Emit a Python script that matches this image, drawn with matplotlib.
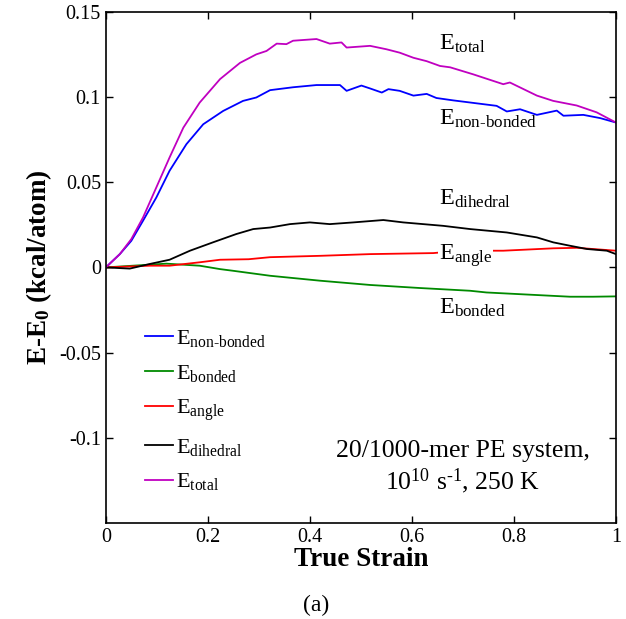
import matplotlib
matplotlib.use("Agg")
import matplotlib.pyplot as plt

# values (true strain, E - E0 in kcal/atom)
total_x = [0, 0.0275, 0.050, 0.073, 0.099, 0.125, 0.152, 0.184, 0.224, 0.263, 0.295, 0.315,
           0.335, 0.354, 0.367, 0.413, 0.439, 0.462, 0.472, 0.518, 0.550, 0.576, 0.603, 0.629,
           0.655, 0.675, 0.72, 0.779, 0.792, 0.845, 0.877, 0.923, 0.962, 1.0]
total_y = [0, 0.0078, 0.0166, 0.0293, 0.0469, 0.0645, 0.082, 0.0967, 0.1105, 0.120, 0.125, 0.127,
           0.1313, 0.131, 0.133, 0.134, 0.1313, 0.132, 0.129, 0.130, 0.128, 0.126, 0.123, 0.121,
           0.1182, 0.1174, 0.1133, 0.1075, 0.1085, 0.1008, 0.0977, 0.095, 0.091, 0.085]

nb_x = [0, 0.0275, 0.050, 0.073, 0.099, 0.125, 0.158, 0.191, 0.230, 0.269, 0.295, 0.322,
        0.367, 0.413, 0.459, 0.472, 0.501, 0.518, 0.541, 0.554, 0.576, 0.603, 0.629, 0.648,
        0.681, 0.766, 0.786, 0.812, 0.845, 0.884, 0.897, 0.936, 0.969, 1.0]
nb_y = [0, 0.0078, 0.0156, 0.0274, 0.041, 0.0567, 0.0723, 0.084, 0.0918, 0.0977, 0.0997, 0.104,
        0.1057, 0.107, 0.107, 0.1036, 0.1067, 0.105, 0.1026, 0.1046, 0.1036, 0.1008, 0.1018, 0.0994,
        0.098, 0.0948, 0.0915, 0.0928, 0.0895, 0.092, 0.089, 0.0895, 0.0876, 0.085]

dih_x = [0, 0.047, 0.086, 0.125, 0.165, 0.210, 0.256, 0.289, 0.322, 0.361, 0.40, 0.439, 0.485,
         0.544, 0.583, 0.622, 0.661, 0.714, 0.786, 0.845, 0.877, 0.910, 0.943, 0.982, 1.0]
dih_y = [0, -0.0007, 0.002, 0.0045, 0.0098, 0.0147, 0.0196, 0.0225, 0.0234, 0.0254, 0.0264, 0.0254, 0.0264,
         0.0278, 0.0264, 0.0254, 0.0244, 0.0225, 0.0205, 0.0176, 0.0147, 0.0127, 0.0108, 0.0098, 0.0078]

ang_x = [0, 0.086, 0.125, 0.184, 0.224, 0.28, 0.322, 0.42, 0.518, 0.642, 0.694, 0.779, 0.877, 0.923, 1.0]
ang_y = [0, 0.001, 0.001, 0.003, 0.0045, 0.0048, 0.006, 0.0068, 0.0078, 0.0084, 0.0098, 0.0098, 0.0112, 0.0115, 0.0098]

bond_x = [0, 0.053, 0.119, 0.184, 0.224, 0.25, 0.322, 0.42, 0.518, 0.616, 0.714, 0.746, 0.831, 0.910, 0.955, 1.0]
bond_y = [0, 0.001, 0.0022, 0.001, -0.001, -0.002, -0.0049, -0.0078, -0.0103, -0.0121, -0.0137, -0.0147,
          -0.016, -0.0172, -0.0172, -0.017]

series = [
    ("non-bonded", nb_x, nb_y, "#0000ff"),
    ("bonded", bond_x, bond_y, "#008a00"),
    ("angle", ang_x, ang_y, "#ff0000"),
    ("dihedral", dih_x, dih_y, "#000000"),
    ("total", total_x, total_y, "#c000c0"),
]

# curve labels inside the plot (strain, energy)
curve_labels = [
    ("total", 0.653, 0.131),
    ("non-bonded", 0.653, 0.087),
    ("dihedral", 0.653, 0.040),
    ("angle", 0.653, 0.007),
    ("bonded", 0.653, -0.024),
]

x_ticks = [0, 0.2, 0.4, 0.6, 0.8, 1]
x_tick_labels = ["0", "0.2", "0.4", "0.6", "0.8", "1"]
y_ticks = [-0.1, -0.05, 0, 0.05, 0.1, 0.15]
y_tick_labels = ["-0.1", "-0.05", "0", "0.05", "0.1", "0.15"]

plt.rcParams.update({
    "font.family": "Liberation Serif",
    "mathtext.fontset": "custom",
    "mathtext.rm": "Liberation Serif",
    "mathtext.it": "Liberation Serif:italic",
    "mathtext.bf": "Liberation Serif:bold",
    "xtick.direction": "in",
    "ytick.direction": "in",
    "xtick.top": True,
    "ytick.right": True,
})


def sub_label(name):
    return r"E$_{\text{%s}}$" % name


fig = plt.figure(figsize=(6.26, 6.19), dpi=100)
ax = fig.add_axes([0.169, 0.155, 0.815, 0.826])

for name, xs, ys, color in series:
    ax.plot(xs, ys, color=color, lw=1.3, label=sub_label(name))

for name, xv, yv in curve_labels:
    ax.text(xv, yv, sub_label(name), fontsize=17.5, va="center", ha="left",
            bbox=dict(facecolor="white", edgecolor="none", pad=0.5) if name == "angle" else None)

ax.text(0.70, 0.140, "20/1000-mer PE system,", transform=ax.transAxes,
        fontsize=18.5, ha="center", va="center")
ax.text(0.70, 0.082, r"10$^{10}$ s$^{\text{-1}}$, 250 K", transform=ax.transAxes,
        fontsize=18.5, ha="center", va="center")

ax.set_xlim(0, 1)
ax.set_ylim(-0.15, 0.15)
ax.set_xticks(x_ticks)
ax.set_xticklabels(x_tick_labels)
ax.set_yticks(y_ticks)
ax.set_yticklabels(y_tick_labels)
ax.tick_params(labelsize=14.5, length=5, width=1)
for s in ax.spines.values():
    s.set_linewidth(1.2)

ax.set_xlabel("True Strain", fontsize=19.5, fontweight="bold", labelpad=0)
ax.set_ylabel(r"E-E$_{\mathbf{0}}$ (kcal/atom)", fontsize=19.5, fontweight="bold", labelpad=4)

ax.legend(loc="upper left", bbox_to_anchor=(0.0765, 0.382), frameon=False,
          fontsize=16, handlelength=1.25, handletextpad=0.15, labelspacing=0.62,
          borderpad=0, borderaxespad=0)

fig.text(0.505, 0.022, "(a)", fontsize=17, ha="center", va="center")

fig.savefig("out.png", dpi=100)
